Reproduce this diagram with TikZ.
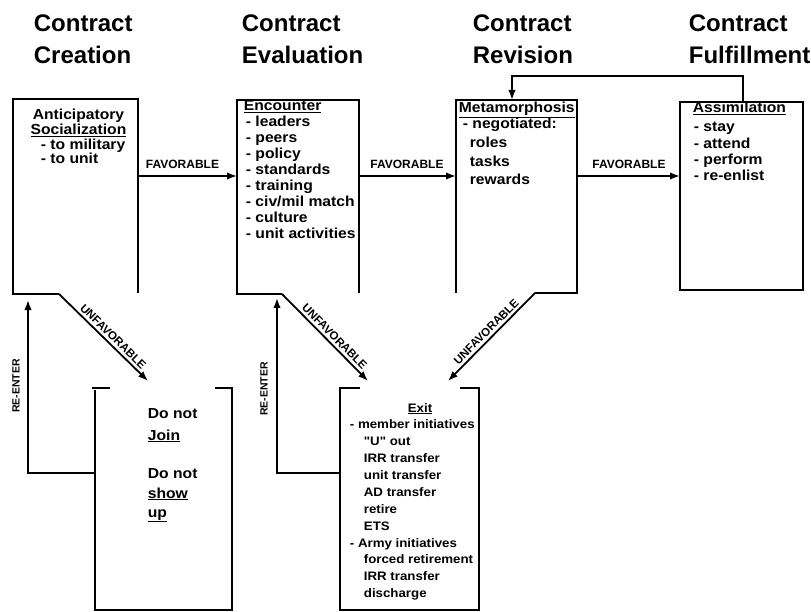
\documentclass[tikz,border=0pt]{standalone}
\usepackage{fontspec}
\setmainfont{Liberation Sans}
\newfontfamily\boxfont{Liberation Sans}[FakeStretch=1.08]
\usetikzlibrary{arrows.meta}
\begin{document}
\begin{tikzpicture}[x=1pt,y=-1pt,line width=1.8pt,line cap=butt,
  conn/.style={-{Latex[length=10pt,width=7.5pt]},line width=1.8pt},
  ttl/.style={anchor=base west,inner sep=0pt,font=\bfseries\fontsize{24}{28}\selectfont},
  itm/.style={anchor=base west,inner sep=0pt,font=\boxfont\bfseries\fontsize{14.5}{16}\selectfont},
  itmc/.style={anchor=base,inner sep=0pt,font=\boxfont\bfseries\fontsize{14.5}{16}\selectfont},
  exi/.style={anchor=base west,inner sep=0pt,font=\boxfont\bfseries\fontsize{12.3}{15}\selectfont},
  exic/.style={anchor=base,inner sep=0pt,font=\boxfont\bfseries\fontsize{12.3}{15}\selectfont},
  lab/.style={inner sep=2.5pt,font=\bfseries\fontsize{11.5}{13}\selectfont},
  flab/.style={anchor=base,inner sep=0pt,font=\bfseries\fontsize{12}{14}\selectfont},
  rlab/.style={inner sep=0pt,rotate=90,font=\bfseries\fontsize{10.5}{12}\selectfont}]
\fill[white] (0,0) rectangle (811,612);
\useasboundingbox (0,0) rectangle (811,612);

% titles
\node[ttl] (t1a) at (33,32) {Contract};
\node[ttl] (t1b) at (33,64) {Creation};
\node[ttl] (t2a) at (241,32) {Contract};
\node[ttl] (t2b) at (241,64) {Evaluation};
\node[ttl] (t3a) at (472,32) {Contract};
\node[ttl] (t3b) at (472,64) {Revision};
\node[ttl] (t4a) at (688,32) {Contract};
\node[ttl] (t4b) at (688,64) {Fulfillment};

% box corners
\coordinate (b1cut) at (59,294);
\coordinate (b1bl) at (13,294);
\coordinate (b1tl) at (13,99);
\coordinate (b1tr) at (138,99);
\coordinate (b1br) at (138,293);
\coordinate (b2cut) at (282,294);
\coordinate (b2bl) at (237,294);
\coordinate (b2tl) at (237,100);
\coordinate (b2tr) at (359,100);
\coordinate (b2br) at (359,293);
\coordinate (b3bl) at (456,293);
\coordinate (b3tl) at (456,100);
\coordinate (b3tr) at (577,100);
\coordinate (b3br) at (577,293);
\coordinate (b3cut) at (535,293);
\coordinate (b4tl) at (680,102);
\coordinate (b4br) at (803,290);

\draw (b1cut) -- (b1bl) -- (b1tl) -- (b1tr) -- (b1br);
\draw (b2cut) -- (b2bl) -- (b2tl) -- (b2tr) -- (b2br);
\draw (b3bl) -- (b3tl) -- (b3tr) -- (b3br) -- (b3cut);
\draw (b4tl) rectangle (b4br);

% do-not box
\coordinate (d1) at (92,388);
\coordinate (d2) at (110,388);
\coordinate (d3) at (95,390);
\coordinate (d4) at (95,610);
\coordinate (d5) at (232,610);
\coordinate (d6) at (232,388);
\coordinate (d7) at (215,388);
\draw (d1) -- (d2);
\draw (d3) -- (d4) -- (d5) -- (d6) -- (d7);

% exit box
\coordinate (e1) at (360,388);
\coordinate (e2) at (340,388);
\coordinate (e3) at (340,610);
\coordinate (e4) at (479,610);
\coordinate (e5) at (479,388);
\coordinate (e6) at (460,388);
\draw (e1) -- (e2) -- (e3) -- (e4) -- (e5) -- (e6);

% favorable arrows
\coordinate (f1s) at (138,176); \coordinate (f1e) at (237,176);
\coordinate (f2s) at (359,176); \coordinate (f2e) at (456,176);
\coordinate (f3s) at (577,176); \coordinate (f3e) at (680,176);
\draw[conn] (f1s) -- (f1e);
\draw[conn] (f2s) -- (f2e);
\draw[conn] (f3s) -- (f3e);
\node[flab] (fl1) at (182.5,169) {FAVORABLE};
\node[flab] (fl2) at (407,169) {FAVORABLE};
\node[flab] (fl3) at (629,169) {FAVORABLE};

% feedback
\coordinate (fb1) at (743,102);
\coordinate (fb2) at (743,76);
\coordinate (fb3) at (512,76);
\coordinate (fb4) at (512,100);
\draw[conn] (fb1) -- (fb2) -- (fb3) -- (fb4);

% unfavorable arrows
\coordinate (u1) at (148,381);
\coordinate (u2) at (368,381);
\coordinate (u3) at (448,381);
\draw[conn] (b1cut) -- node[lab,sloped,above,pos=0.55] (ul1) {UNFAVORABLE} (u1);
\draw[conn] (b2cut) -- node[lab,sloped,above,pos=0.55] (ul2) {UNFAVORABLE} (u2);
\draw[conn] (b3cut) -- node[lab,sloped,above,pos=0.5] (ul3) {UNFAVORABLE} (u3);

% re-enter arrows
\coordinate (r1c) at (28,473);
\coordinate (r1t) at (28,300);
\coordinate (r1s) at (95,473);
\coordinate (r2c) at (277,473);
\coordinate (r2t) at (277,298);
\coordinate (r2s) at (340,473);
\draw[conn] (r1s) -- (r1c) -- (r1t);
\draw[conn] (r2s) -- (r2c) -- (r2t);
\node[rlab] (rl1) at (16,386) {RE-ENTER};
\node[rlab] (rl2) at (264,389) {RE-ENTER};

% box 1 text
\node[itmc] (a1) at (78.5,120) {Anticipatory};
\node[itmc] (a2) at (78.5,135) {\underline{Socialization}};
\node[itm] (a3) at (40,150) {- to military};
\node[itm] (a4) at (40,164) {- to unit};

% box 2 text
\node[itm] (enc) at (243,111) {\underline{Encounter}};
\foreach \t [count=\i] in {- leaders,- peers,- policy,- standards,- training,- civ/mil match,- culture,- unit activities}
  \node[itm] (enc\i) at (245,{127+15.9*(\i-1)}) {\t};

% box 3 text
\node[itm] (met) at (458,113) {\underline{Metamorphosis}};
\node[itm] (met1) at (462,129) {- negotiated:};
\node[itm] (met2) at (469,148) {roles};
\node[itm] (met3) at (469,167) {tasks};
\node[itm] (met4) at (469,185) {rewards};

% box 4 text
\node[itm] (asm) at (692,113) {\underline{Assimilation}};
\foreach \t [count=\i] in {- stay,- attend,- perform,- re-enlist}
  \node[itm] (asm\i) at (693,{132+16.2*(\i-1)}) {\t};

% do-not text
\node[itm] (dn1) at (147,418) {Do not};
\node[itm] (dn2) at (147,440) {\underline{Join}};
\node[itm] (dn3) at (147,478) {Do not};
\node[itm] (dn4) at (147,498) {\underline{show}};
\node[itm] (dn5) at (147,517) {\underline{up}};

% exit text
\node[exic] (ex) at (420,412) {\underline{Exit}};
\node[exi] (ex1) at (349,428) {- member initiatives};
\node[exi] (ex2) at (363,445) {"U" out};
\node[exi] (ex3) at (363,462) {IRR transfer};
\node[exi] (ex4) at (363,479) {unit transfer};
\node[exi] (ex5) at (363,496) {AD transfer};
\node[exi] (ex6) at (363,513) {retire};
\node[exi] (ex7) at (363,530) {ETS};
\node[exi] (ex8) at (349,547) {- Army initiatives};
\node[exi] (ex9) at (363,563) {forced retirement};
\node[exi] (ex10) at (363,580) {IRR transfer};
\node[exi] (ex11) at (363,597) {discharge};
\end{tikzpicture}
\end{document}
